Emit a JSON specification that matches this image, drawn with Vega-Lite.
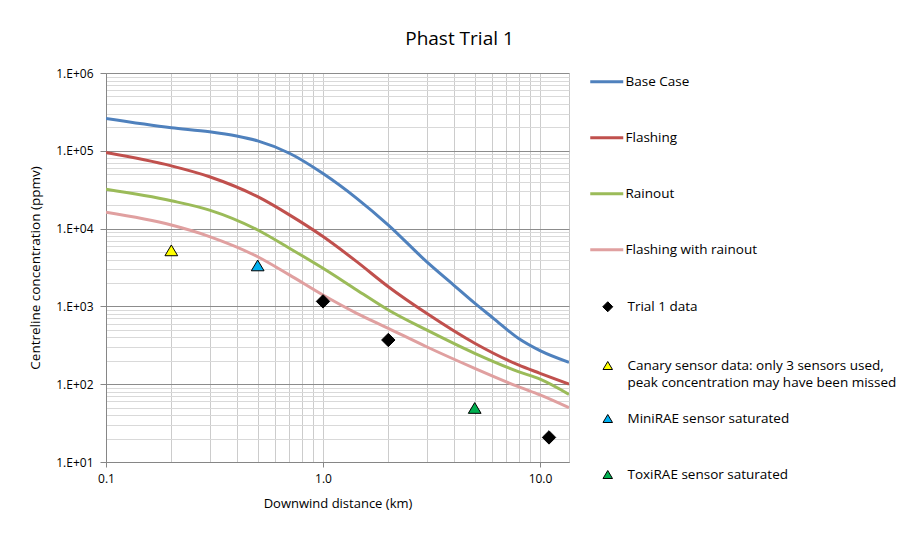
{
  "$schema": "https://vega.github.io/schema/vega-lite/v6.json",
  "width": 463,
  "height": 389,
  "autosize": {"type": "none"},
  "padding": {"left": 106, "top": 73, "right": 330, "bottom": 72},
  "background": "white",
  "title": {"text": "Phast Trial 1", "fontSize": 19, "font": "Open Sans", "fontWeight": "normal", "color": "#000000", "anchor": "middle", "dx": 122, "offset": 18},
  "config": {
    "font": "Open Sans",
    "view": {"stroke": "#c8c8c8"},
    "style": {"guide-label": {"lineHeight": 17}},
    "legend": {
      "orient": "none", "padding": 0, "title": null,
      "symbolSize": 100, "symbolStrokeWidth": 1, "labelFontSize": 13.5, "labelFont": "Open Sans",
      "labelColor": "#000000", "labelLimit": 400
    }
  },
  "datasets": {
    "curves": [
      {"series": "Base Case", "x": 0.1, "y": 260000},
      {"series": "Base Case", "x": 0.2, "y": 198000},
      {"series": "Base Case", "x": 0.3, "y": 176000},
      {"series": "Base Case", "x": 0.4, "y": 155000},
      {"series": "Base Case", "x": 0.5, "y": 134000},
      {"series": "Base Case", "x": 0.7, "y": 93000},
      {"series": "Base Case", "x": 1.0, "y": 51000},
      {"series": "Base Case", "x": 1.43, "y": 24500},
      {"series": "Base Case", "x": 2.0, "y": 11100},
      {"series": "Base Case", "x": 3.0, "y": 3760},
      {"series": "Base Case", "x": 4.0, "y": 1880},
      {"series": "Base Case", "x": 5.0, "y": 1100},
      {"series": "Base Case", "x": 6.1, "y": 703},
      {"series": "Base Case", "x": 7.94, "y": 389},
      {"series": "Base Case", "x": 10.0, "y": 270},
      {"series": "Base Case", "x": 13.6, "y": 191},
      {"series": "Flashing", "x": 0.1, "y": 95000},
      {"series": "Flashing", "x": 0.2, "y": 64000},
      {"series": "Flashing", "x": 0.3, "y": 46400},
      {"series": "Flashing", "x": 0.5, "y": 25700},
      {"series": "Flashing", "x": 0.7, "y": 15000},
      {"series": "Flashing", "x": 1.0, "y": 7900},
      {"series": "Flashing", "x": 1.43, "y": 3760},
      {"series": "Flashing", "x": 2.0, "y": 1790},
      {"series": "Flashing", "x": 3.0, "y": 815},
      {"series": "Flashing", "x": 5.0, "y": 336},
      {"series": "Flashing", "x": 7.94, "y": 177},
      {"series": "Flashing", "x": 10.0, "y": 138},
      {"series": "Flashing", "x": 13.6, "y": 100},
      {"series": "Rainout", "x": 0.1, "y": 32000},
      {"series": "Rainout", "x": 0.2, "y": 22800},
      {"series": "Rainout", "x": 0.3, "y": 17300},
      {"series": "Rainout", "x": 0.5, "y": 9600},
      {"series": "Rainout", "x": 0.7, "y": 5600},
      {"series": "Rainout", "x": 1.0, "y": 3090},
      {"series": "Rainout", "x": 1.43, "y": 1630},
      {"series": "Rainout", "x": 2.0, "y": 900},
      {"series": "Rainout", "x": 3.0, "y": 498},
      {"series": "Rainout", "x": 5.0, "y": 249},
      {"series": "Rainout", "x": 7.94, "y": 145},
      {"series": "Rainout", "x": 10.0, "y": 116},
      {"series": "Rainout", "x": 13.6, "y": 74},
      {"series": "Flashing with rainout", "x": 0.1, "y": 16200},
      {"series": "Flashing with rainout", "x": 0.2, "y": 11100},
      {"series": "Flashing with rainout", "x": 0.3, "y": 7900},
      {"series": "Flashing with rainout", "x": 0.5, "y": 4350},
      {"series": "Flashing with rainout", "x": 0.7, "y": 2540},
      {"series": "Flashing with rainout", "x": 1.0, "y": 1400},
      {"series": "Flashing with rainout", "x": 1.43, "y": 815},
      {"series": "Flashing with rainout", "x": 2.0, "y": 523},
      {"series": "Flashing with rainout", "x": 3.0, "y": 303},
      {"series": "Flashing with rainout", "x": 5.0, "y": 160},
      {"series": "Flashing with rainout", "x": 7.94, "y": 93},
      {"series": "Flashing with rainout", "x": 10.0, "y": 73},
      {"series": "Flashing with rainout", "x": 13.6, "y": 50}
    ],
    "markersA": [
      {"series": "Trial 1 data", "x": 1.0, "y": 1160},
      {"series": "Trial 1 data", "x": 2.0, "y": 370},
      {"series": "Trial 1 data", "x": 11.0, "y": 20.7},
      {"series": "Canary sensor data: only 3 sensors used, peak concentration may have been missed", "x": 0.2, "y": 5200}
    ],
    "markersB": [
      {"series": "MiniRAE sensor saturated", "x": 0.5, "y": 3330},
      {"series": "ToxiRAE sensor saturated", "x": 5.0, "y": 49}
    ]
  },
  "encoding": {
    "x": {
      "field": "x", "type": "quantitative",
      "scale": {"type": "log", "domain": [0.1, 13.6], "nice": false},
      "axis": {
        "title": "Downwind distance (km)", "titleFontSize": 13, "titleFontWeight": "normal", "titleColor": "#000000", "titlePadding": 13,
        "values": [0.1, 0.2, 0.3, 0.4, 0.5, 0.6, 0.7, 0.8, 0.9, 1, 2, 3, 4, 5, 6, 7, 8, 9, 10],
        "labelExpr": "abs(log(datum.value)/LN10 - round(log(datum.value)/LN10)) < 0.001 ? format(datum.value, '.1f') : ''",
        "labelFontSize": 12, "labelColor": "#000000", "labelPadding": 6, "labelOverlap": false, "labelBound": false, "labelFlush": false,
        "grid": true, "gridColor": "#cccccc", "gridWidth": 1,
        "domainColor": "#868686", "tickSize": 5,
        "tickColor": {"condition": {"test": "abs(log(datum.value)/LN10 - round(log(datum.value)/LN10)) < 0.001", "value": "#868686"}, "value": "transparent"}
      }
    },
    "y": {
      "field": "y", "type": "quantitative",
      "scale": {"type": "log", "domain": [10, 1000000], "nice": false},
      "axis": {
        "title": "Centreline concentration (ppmv)", "titleFontSize": 13.5, "titleFontWeight": "normal", "titleColor": "#000000", "titlePadding": 13,
        "values": [10, 20, 30, 40, 50, 60, 70, 80, 90, 100, 200, 300, 400, 500, 600, 700, 800, 900, 1000, 2000, 3000, 4000, 5000, 6000, 7000, 8000, 9000, 10000, 20000, 30000, 40000, 50000, 60000, 70000, 80000, 90000, 100000, 200000, 300000, 400000, 500000, 600000, 700000, 800000, 900000, 1000000],
        "labelExpr": "abs(log(datum.value)/LN10 - round(log(datum.value)/LN10)) < 0.001 ? '1.E+' + format(round(log(datum.value)/LN10), '02d') : ''",
        "labelFontSize": 12, "labelColor": "#000000", "labelPadding": 7, "labelOverlap": false, "labelBound": false, "labelFlush": false,
        "grid": true,
        "gridColor": {"condition": {"test": "abs(log(datum.value)/LN10 - round(log(datum.value)/LN10)) < 0.001", "value": "#8c8c8c"}, "value": "#d9d9d9"},
        "domainColor": "#868686", "tickSize": 6,
        "tickColor": {"condition": {"test": "abs(log(datum.value)/LN10 - round(log(datum.value)/LN10)) < 0.001", "value": "#868686"}, "value": "transparent"}
      }
    }
  },
  "layer": [
    {
      "data": {"name": "curves"},
      "mark": {"type": "line", "strokeWidth": 3, "interpolate": "monotone", "clip": true},
      "encoding": {
        "stroke": {
          "field": "series", "type": "nominal",
          "scale": {
            "domain": ["Base Case", "Flashing", "Rainout", "Flashing with rainout"],
            "range": ["#4F81BD", "#C0504D", "#9BBB59", "#E0A0A0"]
          },
          "legend": {"legendX": 494, "legendY": 2, "rowPadding": 41, "labelOffset": 12, "symbolType": "M-3.3,0H3.3", "symbolStrokeWidth": 3}
        }
      }
    },
    {
      "data": {"name": "markersA"},
      "mark": {"type": "point", "filled": true, "opacity": 1, "size": 180, "stroke": "#000000", "strokeWidth": 1},
      "encoding": {
        "fill": {
          "field": "series", "type": "nominal",
          "scale": {
            "domain": ["Trial 1 data", "Canary sensor data: only 3 sensors used, peak concentration may have been missed"],
            "range": ["#000000", "#FFFF00"]
          },
          "legend": {
            "legendX": 495, "legendY": 227, "rowPadding": 44, "labelOffset": 13,
            "labelExpr": "indexof(datum.label, 'Canary') == 0 ? ['Canary sensor data: only 3 sensors used,', 'peak concentration may have been missed'] : datum.label",
            "encode": {"symbols": {"update": {"stroke": {"value": "#000000"}, "strokeWidth": {"value": 1}}}, "labels": {"update": {"lineHeight": {"value": 17}}}}
          }
        },
        "shape": {
          "field": "series", "type": "nominal",
          "scale": {
            "domain": ["Trial 1 data", "Canary sensor data: only 3 sensors used, peak concentration may have been missed"],
            "range": ["M0,-1L1,0L0,1L-1,0Z", "M0,-0.85L0.95,0.75L-0.95,0.75Z"]
          },
          "legend": {
            "legendX": 495, "legendY": 227, "rowPadding": 44, "labelOffset": 13,
            "labelExpr": "indexof(datum.label, 'Canary') == 0 ? ['Canary sensor data: only 3 sensors used,', 'peak concentration may have been missed'] : datum.label",
            "encode": {"symbols": {"update": {"stroke": {"value": "#000000"}, "strokeWidth": {"value": 1}}}, "labels": {"update": {"lineHeight": {"value": 17}}}}
          }
        }
      }
    },
    {
      "data": {"name": "markersB"},
      "mark": {"type": "point", "filled": true, "opacity": 1, "size": 180, "stroke": "#000000", "strokeWidth": 1},
      "encoding": {
        "fill": {
          "field": "series", "type": "nominal",
          "scale": {
            "domain": ["MiniRAE sensor saturated", "ToxiRAE sensor saturated"],
            "range": ["#00B0F0", "#00B050"]
          },
          "legend": {
            "legendX": 495, "legendY": 339, "rowPadding": 41, "labelOffset": 13,
            "encode": {"symbols": {"update": {"stroke": {"value": "#000000"}, "strokeWidth": {"value": 1}}}}
          }
        },
        "shape": {
          "field": "series", "type": "nominal",
          "scale": {
            "domain": ["MiniRAE sensor saturated", "ToxiRAE sensor saturated"],
            "range": ["M0,-0.85L0.95,0.75L-0.95,0.75Z", "M0,-0.85L0.95,0.75L-0.95,0.75Z"]
          },
          "legend": {
            "legendX": 495, "legendY": 339, "rowPadding": 41, "labelOffset": 13,
            "encode": {"symbols": {"update": {"stroke": {"value": "#000000"}, "strokeWidth": {"value": 1}}}}
          }
        }
      }
    }
  ],
  "resolve": {
    "scale": {"fill": "independent", "shape": "independent"},
    "legend": {"fill": "independent", "shape": "independent"}
  }
}
